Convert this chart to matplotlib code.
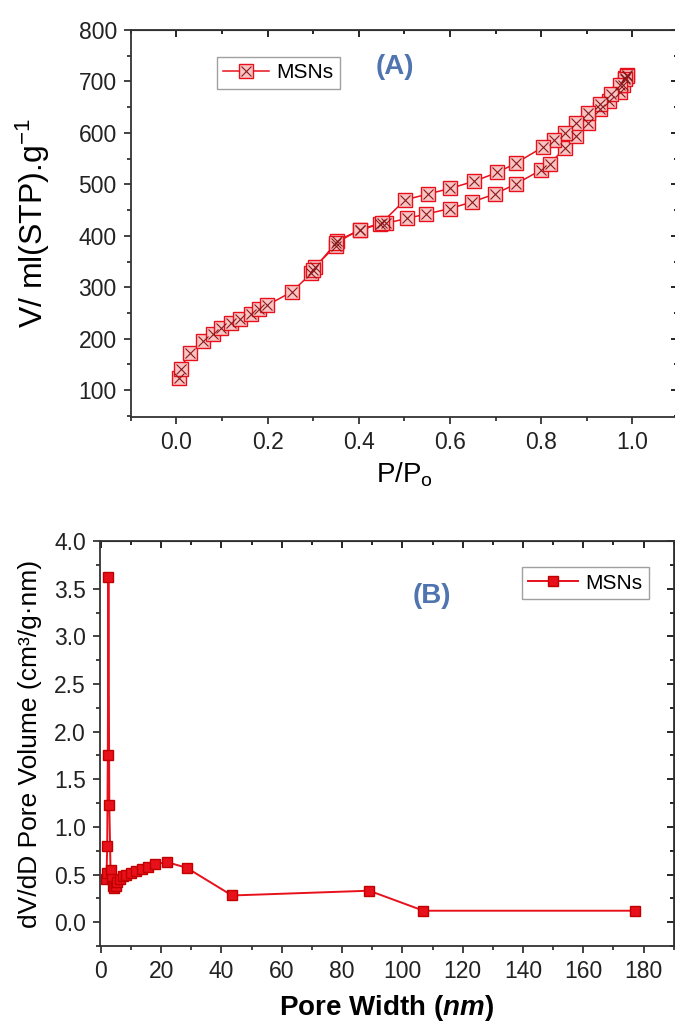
import matplotlib
matplotlib.use("Agg")
import matplotlib.pyplot as plt
from matplotlib.ticker import MultipleLocator
from matplotlib.legend_handler import HandlerTuple

plt.rcParams['font.family'] = ['Liberation Sans', 'DejaVu Sans']
plt.rcParams['mathtext.fontset'] = 'custom'
plt.rcParams['mathtext.rm'] = 'Liberation Sans'
plt.rcParams['mathtext.it'] = 'Liberation Sans:italic:bold'

# (A) N2 isotherm - adsorption branch
p_ads = [0.006, 0.01, 0.029, 0.058, 0.081, 0.098, 0.119, 0.139, 0.163, 0.182, 0.199,
         0.253, 0.296, 0.304, 0.349, 0.352, 0.402, 0.447, 0.459, 0.506, 0.547, 0.600,
         0.649, 0.698, 0.745, 0.800, 0.819, 0.851, 0.876, 0.903, 0.929, 0.949, 0.972,
         0.980, 0.984, 0.988]
v_ads = [123, 142, 173, 196, 210, 220, 230, 239, 248, 257, 265,
         291, 327, 340, 380, 390, 411, 423, 424, 434, 442, 453,
         466, 481, 501, 528, 540, 570, 593, 620, 646, 661, 680,
         693, 706, 712]
# desorption branch
p_des = [0.988, 0.984, 0.972, 0.953, 0.929, 0.903, 0.877, 0.851, 0.829, 0.803, 0.744,
         0.704, 0.653, 0.600, 0.551, 0.502, 0.450, 0.402, 0.350, 0.300]
v_des = [710, 704, 693, 676, 657, 638, 620, 599, 587, 572, 541,
         523, 506, 492, 481, 470, 425, 412, 386, 334]

# (B) pore size distribution
pore_w = [1.7, 1.9, 2.1, 2.3, 2.5, 2.8, 3.2, 3.6, 4.0, 4.4, 4.9, 5.5, 6.3, 7.3, 8.5,
          10.0, 11.5, 13.5, 15.5, 18.0, 22.0, 28.5, 43.5, 89.0, 107.0, 177.0]
pore_v = [0.45, 0.52, 0.80, 1.75, 3.62, 1.23, 0.55, 0.45, 0.38, 0.36, 0.38, 0.42, 0.45,
          0.48, 0.50, 0.52, 0.54, 0.56, 0.58, 0.61, 0.63, 0.57, 0.28, 0.33, 0.12, 0.12]

red = '#e8101a'
dark = '#8a1a1a'
blue = '#4f74b0'

fig = plt.figure(figsize=(6.75, 10.25), dpi=100)


def style_axes(ax, xmaj, xmin, ymaj, ymin):
    for s in ax.spines.values():
        s.set_linewidth(1.3)
        s.set_color('#333333')
    ax.xaxis.set_major_locator(MultipleLocator(xmaj))
    ax.xaxis.set_minor_locator(MultipleLocator(xmin))
    ax.yaxis.set_major_locator(MultipleLocator(ymaj))
    ax.yaxis.set_minor_locator(MultipleLocator(ymin))
    ax.tick_params(which='both', direction='out', width=1.2, colors='#222222',
                   labelsize=16.5, top=False, right=False, pad=5)
    ax.tick_params(which='major', length=5)
    ax.tick_params(which='minor', length=3)
    sx = ax.secondary_xaxis('top')
    sx.xaxis.set_major_locator(MultipleLocator(xmaj))
    sx.xaxis.set_minor_locator(MultipleLocator(xmin))
    sx.tick_params(which='both', direction='in', labeltop=False, width=1.2)
    sx.tick_params(which='major', length=5)
    sx.tick_params(which='minor', length=3)
    sy = ax.secondary_yaxis('right')
    sy.yaxis.set_major_locator(MultipleLocator(ymaj))
    sy.yaxis.set_minor_locator(MultipleLocator(ymin))
    sy.tick_params(which='both', direction='in', labelright=False, width=1.2)
    sy.tick_params(which='major', length=5)
    sy.tick_params(which='minor', length=3)


# ---- panel A
ax1 = fig.add_axes([0.1936, 0.5932, 0.811, 0.3776])
for p, v in [(p_ads, v_ads), (p_des, v_des)]:
    ax1.plot(p, v, '-', color=red, lw=1.1, zorder=2)
    ax1.plot(p, v, 's', ms=9.5, mfc='#f8c4c4', mec=red, mew=1.0, zorder=3)
    ax1.plot(p, v, 'x', ms=6.5, color=dark, mew=0.8, zorder=4)
ax1.set_xlim(-0.1, 1.1)
ax1.set_ylim(48, 800)
style_axes(ax1, 0.2, 0.1, 100, 50)
ax1.set_xlabel(r'P/P$_\mathrm{o}$', fontsize=20, labelpad=5)
ax1.set_ylabel(r'V/ ml(STP).g$^{-1}$', fontsize=23)
ax1.yaxis.set_label_coords(-0.144, 0.5)
ax1.text(0.483, 0.905, '(A)', transform=ax1.transAxes, color=blue,
         fontsize=20, fontweight='bold', ha='center', va='center')
h_line, = ax1.plot([], [], '-', color=red, lw=1.1)
h_sq, = ax1.plot([], [], 's', ms=9.5, mfc='#f8c4c4', mec=red, mew=1.0)
h_x, = ax1.plot([], [], 'x', ms=6.5, color=dark, mew=0.8)
leg1 = ax1.legend([(h_line, h_sq, h_x)], ['MSNs'], handler_map={tuple: HandlerTuple(ndivide=1)},
                  loc='upper left', bbox_to_anchor=(0.158, 0.930), fontsize=15,
                  fancybox=False, edgecolor='#888888', handlelength=2.2,
                  borderpad=0.3, handletextpad=0.35, borderaxespad=0)
leg1.get_frame().set_linewidth(1.0)

# ---- panel B
ax2 = fig.add_axes([0.1481, 0.0771, 0.850, 0.395])
ax2.plot(pore_w, pore_v, '-s', color=red, lw=1.4, ms=6.5, mfc=red, mec='#c00000',
         label='MSNs')
ax2.set_xlim(-0.3, 190)
ax2.set_ylim(-0.25, 4.0)
style_axes(ax2, 20, 10, 0.5, 0.25)
ax2.set_xlabel(r'Pore Width ($nm$)', fontsize=20, fontweight='bold', labelpad=7)
ax2.set_ylabel('dV/dD Pore Volume (cm³/g·nm)', fontsize=19)
ax2.yaxis.set_label_coords(-0.101, 0.5)
ax2.text(0.578, 0.865, '(B)', transform=ax2.transAxes, color=blue,
         fontsize=20, fontweight='bold', ha='center', va='center')
leg2 = ax2.legend(loc='upper right', bbox_to_anchor=(0.957, 0.935), fontsize=15,
                  fancybox=False, edgecolor='#888888', handlelength=2.4,
                  borderpad=0.3, handletextpad=0.35, borderaxespad=0)
leg2.get_frame().set_linewidth(1.0)

fig.savefig('out.png', dpi=100)
